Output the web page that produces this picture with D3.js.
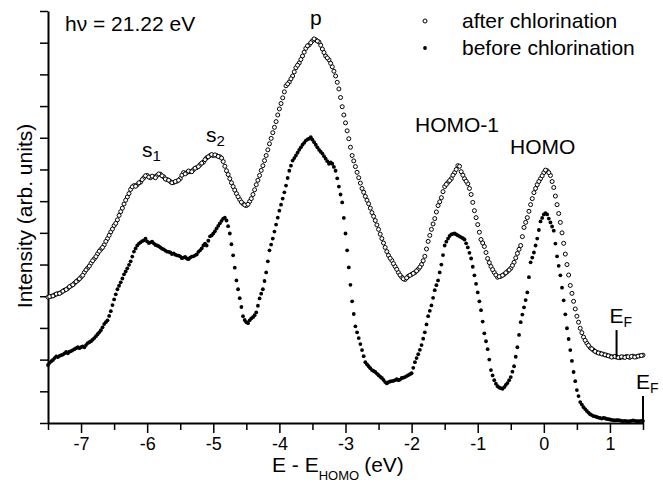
<!DOCTYPE html>
<html>
<head>
<meta charset="utf-8">
<script src="https://cdn.jsdelivr.net/npm/d3@7"></script>
<style>
  body { margin: 0; background: #fff; }
  text { font-family: "Liberation Sans", Arial, Helvetica, sans-serif; fill: #000; }
</style>
</head>
<body>
<div id="chart"></div>
<script>
// binding energy grid (eV relative to HOMO), one row per 0.5 eV
const energy = [
  -7.50,-7.45,-7.40,-7.35,-7.30,-7.25,-7.20,-7.15,-7.10,-7.05,
  -7.00,-6.95,-6.90,-6.85,-6.80,-6.75,-6.70,-6.65,-6.60,-6.55,
  -6.50,-6.45,-6.40,-6.35,-6.30,-6.25,-6.20,-6.15,-6.10,-6.05,
  -6.00,-5.95,-5.90,-5.85,-5.80,-5.75,-5.70,-5.65,-5.60,-5.55,
  -5.50,-5.45,-5.40,-5.35,-5.30,-5.25,-5.20,-5.15,-5.10,-5.05,
  -5.00,-4.95,-4.90,-4.85,-4.80,-4.75,-4.70,-4.65,-4.60,-4.55,
  -4.50,-4.45,-4.40,-4.35,-4.30,-4.25,-4.20,-4.15,-4.10,-4.05,
  -4.00,-3.95,-3.90,-3.85,-3.80,-3.75,-3.70,-3.65,-3.60,-3.55,
  -3.50,-3.45,-3.40,-3.35,-3.30,-3.25,-3.20,-3.15,-3.10,-3.05,
  -3.00,-2.95,-2.90,-2.85,-2.80,-2.75,-2.70,-2.65,-2.60,-2.55,
  -2.50,-2.45,-2.40,-2.35,-2.30,-2.25,-2.20,-2.15,-2.10,-2.05,
  -2.00,-1.95,-1.90,-1.85,-1.80,-1.75,-1.70,-1.65,-1.60,-1.55,
  -1.50,-1.45,-1.40,-1.35,-1.30,-1.25,-1.20,-1.15,-1.10,-1.05,
  -1.00,-0.95,-0.90,-0.85,-0.80,-0.75,-0.70,-0.65,-0.60,-0.55,
  -0.50,-0.45,-0.40,-0.35,-0.30,-0.25,-0.20,-0.15,-0.10,-0.05,
   0.00, 0.05, 0.10, 0.15, 0.20, 0.25, 0.30, 0.35, 0.40, 0.45,
   0.50, 0.55, 0.60, 0.65, 0.70, 0.75, 0.80, 0.85, 0.90, 0.95,
   1.00, 1.05, 1.10, 1.15, 1.20, 1.25, 1.30, 1.35, 1.40, 1.45, 1.50
];

// the in-between energies of the scan
const energyMid = [
  -7.475,-7.425,-7.375,-7.325,-7.275,-7.225,-7.175,-7.125,-7.075,-7.025,
  -6.975,-6.925,-6.875,-6.825,-6.775,-6.725,-6.675,-6.625,-6.575,-6.525,
  -6.475,-6.425,-6.375,-6.325,-6.275,-6.225,-6.175,-6.125,-6.075,-6.025,
  -5.975,-5.925,-5.875,-5.825,-5.775,-5.725,-5.675,-5.625,-5.575,-5.525,
  -5.475,-5.425,-5.375,-5.325,-5.275,-5.225,-5.175,-5.125,-5.075,-5.025,
  -4.975,-4.925,-4.875,-4.825,-4.775,-4.725,-4.675,-4.625,-4.575,-4.525,
  -4.475,-4.425,-4.375,-4.325,-4.275,-4.225,-4.175,-4.125,-4.075,-4.025,
  -3.975,-3.925,-3.875,-3.825,-3.775,-3.725,-3.675,-3.625,-3.575,-3.525,
  -3.475,-3.425,-3.375,-3.325,-3.275,-3.225,-3.175,-3.125,-3.075,-3.025,
  -2.975,-2.925,-2.875,-2.825,-2.775,-2.725,-2.675,-2.625,-2.575,-2.525,
  -2.475,-2.425,-2.375,-2.325,-2.275,-2.225,-2.175,-2.125,-2.075,-2.025,
  -1.975,-1.925,-1.875,-1.825,-1.775,-1.725,-1.675,-1.625,-1.575,-1.525,
  -1.475,-1.425,-1.375,-1.325,-1.275,-1.225,-1.175,-1.125,-1.075,-1.025,
  -0.975,-0.925,-0.875,-0.825,-0.775,-0.725,-0.675,-0.625,-0.575,-0.525,
  -0.475,-0.425,-0.375,-0.325,-0.275,-0.225,-0.175,-0.125,-0.075,-0.025,
   0.025, 0.075, 0.125, 0.175, 0.225, 0.275, 0.325, 0.375, 0.425, 0.475,
   0.525, 0.575, 0.625, 0.675, 0.725, 0.775, 0.825, 0.875, 0.925, 0.975,
   1.025, 1.075, 1.125, 1.175, 1.225, 1.275, 1.325, 1.375, 1.425, 1.475
];

// intensity after chlorination (open circles), arb. units
const afterCl = [
  3.97,4.00,4.04,4.08,4.12,4.19,4.25,4.33,4.41,4.50,
  4.60,4.75,4.89,5.04,5.18,5.34,5.48,5.62,5.82,6.03,
  6.23,6.41,6.67,6.91,7.13,7.37,7.49,7.52,7.60,7.74,
  7.81,7.74,7.77,7.81,7.85,7.77,7.68,7.62,7.59,7.63,
  7.71,7.90,7.90,7.93,7.99,8.06,8.15,8.23,8.37,8.44,
  8.44,8.44,8.40,8.25,7.96,7.71,7.46,7.24,7.05,6.92,
  6.86,6.99,7.21,7.52,7.81,8.12,8.44,8.81,9.16,9.51,
  9.91,10.26,10.64,10.76,10.95,11.21,11.36,11.58,11.82,11.93,
  12.06,12.09,12.02,11.80,11.58,11.46,11.24,10.95,10.54,9.98,
  9.47,8.97,8.44,8.09,7.74,7.40,7.15,6.92,6.64,6.39,
  6.11,5.82,5.54,5.29,5.13,4.94,4.75,4.60,4.53,4.63,
  4.69,4.75,4.85,5.00,5.26,5.73,6.11,6.45,6.86,7.11,
  7.46,7.59,7.71,7.90,8.12,7.93,7.71,7.55,7.21,6.70,
  6.26,5.79,5.57,5.19,4.94,4.75,4.60,4.63,4.69,4.78,
  4.88,5.07,5.35,5.60,6.17,6.48,6.89,7.27,7.52,7.71,
  7.90,7.96,7.81,7.43,6.89,6.33,5.67,5.00,4.34,3.84,
  3.37,2.99,2.71,2.52,2.38,2.30,2.23,2.20,2.17,2.14,
  2.11,2.09,2.08,2.06,2.08,2.10,2.07,2.11,2.09,2.12,2.14
];
const afterClMid = [
  3.99,4.01,4.07,4.09,4.16,4.21,4.30,4.36,4.46,4.55,
  4.66,4.83,4.95,5.12,5.25,5.42,5.54,5.73,5.92,6.12,
  6.30,6.55,6.78,7.03,7.24,7.45,7.47,7.58,7.68,7.80,
  7.76,7.79,7.74,7.86,7.80,7.70,7.66,7.58,7.62,7.66,
  7.82,7.86,7.95,7.93,8.04,8.09,8.20,8.31,8.40,8.47,
  8.46,8.41,8.36,8.10,7.84,7.58,7.35,7.14,6.97,6.88,
  6.90,7.08,7.36,7.66,7.97,8.28,8.62,8.98,9.33,9.72,
  10.08,10.45,10.70,10.86,11.08,11.29,11.47,11.70,11.90,12.00,
  12.12,12.05,11.92,11.69,11.52,11.35,11.10,10.75,10.27,9.72,
  9.22,8.70,8.27,7.91,7.57,7.28,7.03,6.78,6.52,6.25,
  5.96,5.68,5.41,5.20,5.03,4.85,4.67,4.55,4.58,4.66,
  4.72,4.80,4.92,5.12,5.49,5.92,6.28,6.66,6.98,7.30,
  7.53,7.65,7.82,8.00,8.10,7.82,7.63,7.40,6.96,6.48,
  6.02,5.68,5.38,5.06,4.84,4.67,4.62,4.66,4.74,4.83,
  4.97,5.21,5.48,5.88,6.33,6.68,7.08,7.40,7.62,7.80,
  7.98,7.90,7.62,7.16,6.61,6.00,5.33,4.67,4.09,3.60,
  3.18,2.85,2.61,2.45,2.34,2.26,2.21,2.18,2.15,2.12,
  2.08,2.10,2.07,2.09,2.07,2.09,2.10,2.08,2.11,2.13
];

// intensity before chlorination (filled dots), arb. units
const beforeCl = [
  1.83,1.95,2.05,2.08,2.14,2.20,2.20,2.27,2.33,2.39,
  2.39,2.39,2.52,2.58,2.68,2.80,2.93,3.12,3.24,3.53,
  3.90,4.22,4.44,4.69,4.88,5.10,5.41,5.60,5.70,5.76,
  5.73,5.70,5.67,5.60,5.54,5.48,5.41,5.38,5.35,5.29,
  5.26,5.22,5.19,5.22,5.26,5.32,5.45,5.60,5.60,5.89,
  5.98,6.14,6.30,6.45,6.39,5.98,5.29,4.50,3.94,3.37,
  3.18,3.24,3.34,3.49,3.93,4.22,4.75,5.45,5.82,6.26,
  6.70,7.08,7.49,7.96,8.28,8.44,8.62,8.78,8.91,8.97,
  8.94,8.78,8.62,8.50,8.34,8.18,8.18,7.96,7.46,6.96,
  5.98,4.91,3.84,3.05,2.68,2.30,1.92,1.79,1.67,1.61,
  1.51,1.42,1.29,1.29,1.32,1.35,1.35,1.42,1.45,1.51,
  1.57,1.92,2.17,2.46,2.86,3.37,3.71,4.19,4.50,5.00,
  5.60,5.82,5.95,5.98,5.92,5.86,5.79,5.54,5.19,4.66,
  4.12,3.56,2.83,2.33,1.67,1.35,1.16,1.10,1.13,1.26,
  1.45,1.79,2.39,3.18,3.65,4.12,5.07,5.38,5.82,6.36,
  6.58,6.58,6.33,6.07,5.26,4.66,3.87,2.99,2.30,1.61,
  1.04,0.66,0.50,0.38,0.28,0.22,0.19,0.16,0.16,0.13,
  0.11,0.09,0.09,0.08,0.06,0.06,0.06,0.08,0.06,0.06,0.06
];
const beforeClMid = [
  1.90,1.99,2.10,2.12,2.16,2.24,2.25,2.30,2.36,2.36,
  2.42,2.46,2.55,2.63,2.74,2.86,3.02,3.18,3.38,3.72,
  4.06,4.33,4.56,4.78,4.99,5.25,5.51,5.66,5.74,5.82,
  5.68,5.72,5.62,5.58,5.50,5.44,5.40,5.33,5.31,5.28,
  5.20,5.24,5.17,5.25,5.29,5.40,5.51,5.66,5.75,5.92,
  6.05,6.22,6.38,6.48,6.21,5.64,4.90,4.22,3.66,3.25,
  3.15,3.30,3.40,3.70,4.08,4.48,5.10,5.63,6.04,6.48,
  6.89,7.28,7.73,8.12,8.36,8.53,8.70,8.84,8.95,9.02,
  8.86,8.70,8.56,8.42,8.26,8.22,8.08,7.72,7.21,6.47,
  5.45,4.36,3.44,2.86,2.49,2.11,1.85,1.73,1.64,1.56,
  1.46,1.36,1.25,1.31,1.33,1.38,1.37,1.43,1.48,1.54,
  1.74,2.05,2.31,2.66,3.11,3.54,3.95,4.35,4.75,5.30,
  5.72,5.90,5.97,5.95,5.89,5.83,5.67,5.37,4.93,4.39,
  3.84,3.20,2.58,2.00,1.50,1.24,1.12,1.08,1.20,1.35,
  1.62,2.09,2.78,3.42,3.88,4.60,5.22,5.60,6.09,6.47,
  6.62,6.45,6.20,5.66,4.96,4.27,3.43,2.65,1.96,1.32,
  0.85,0.58,0.44,0.33,0.25,0.21,0.17,0.14,0.15,0.12,
  0.10,0.08,0.09,0.07,0.07,0.05,0.07,0.07,0.06,0.07
];

const xMajor = [-7, -6, -5, -4, -3, -2, -1, 0, 1];
const xMinor = [-7.5, -6.5, -5.5, -4.5, -3.5, -2.5, -1.5, -0.5, 0.5, 1.5];
const yTicks = [0, 1, 2, 3, 4, 5, 6, 7, 8, 9, 10, 11, 12, 13];
const legendNames = ["after chlorination", "before chlorination"];
// Fermi level positions (eV) for after / before spectra
const fermiE = [1.1, 1.5];

const W = 663, H = 487;
const margin = {top: 11, right: 20, bottom: 64, left: 48};

const svg = d3.select("#chart").append("svg")
  .attr("width", W).attr("height", H);

const x = d3.scaleLinear().domain([-7.5, 1.5]).range([margin.left, W - margin.right]);
const y = d3.scaleLinear().domain([0, 13]).range([H - margin.bottom, margin.top]);

// x axis: minor ticks first, then major with labels
svg.append("g")
  .attr("transform", `translate(0,${y(0)})`)
  .call(d3.axisBottom(x).tickValues(xMinor).tickSize(7).tickFormat(""))
  .call(g => g.select(".domain").remove())
  .call(g => g.selectAll("line").attr("stroke-width", 1.5));

const gx = svg.append("g")
  .attr("transform", `translate(0,${y(0)})`)
  .call(d3.axisBottom(x).tickValues(xMajor).tickSize(10).tickSizeOuter(0)
    .tickFormat(d => d < 0 ? "-" + Math.abs(d) : d));
gx.select(".domain").attr("stroke-width", 2);
gx.selectAll("line").attr("stroke-width", 1.5);
gx.selectAll("text").attr("font-size", 18).attr("font-family", null).attr("y", 14);

const gy = svg.append("g")
  .attr("transform", `translate(${x(-7.5)},0)`)
  .call(d3.axisLeft(y).tickValues(yTicks).tickSize(8).tickSizeOuter(0).tickFormat(""));
gy.select(".domain").attr("stroke-width", 2);
gy.selectAll("line").attr("stroke-width", 1.5);

// spectra: both sets of readings of each scan
const after = energy.map((e, i) => ({e: e, v: afterCl[i]}))
  .concat(energyMid.map((e, i) => ({e: e, v: afterClMid[i]})));
const before = energy.map((e, i) => ({e: e, v: beforeCl[i]}))
  .concat(energyMid.map((e, i) => ({e: e, v: beforeClMid[i]})));

svg.append("g").selectAll("circle").data(after).join("circle")
  .attr("cx", d => x(d.e)).attr("cy", d => y(d.v)).attr("r", 2)
  .attr("fill", "#fff").attr("stroke", "#000").attr("stroke-width", 1);

svg.append("g").selectAll("circle").data(before).join("circle")
  .attr("cx", d => x(d.e)).attr("cy", d => y(d.v)).attr("r", 1.9)
  .attr("fill", "#000");

// Fermi level markers
const efBase = [afterCl[afterCl.length - 1] - 0.06, 0];
fermiE.forEach((e, i) => {
  const y0 = y(efBase[i]);
  svg.append("line")
    .attr("x1", x(e)).attr("x2", x(e))
    .attr("y1", y0).attr("y2", y0 - 27)
    .attr("stroke", "#000").attr("stroke-width", 2);
  const t = svg.append("text")
    .attr("x", x(e) - 7).attr("y", y0 - 34).attr("font-size", 21);
  t.append("tspan").text("E");
  t.append("tspan").attr("font-size", 14).attr("dy", 4).text("F");
});

// annotations
function label(px, py, main, sub) {
  const t = svg.append("text").attr("x", px).attr("y", py).attr("font-size", 21);
  t.append("tspan").text(main);
  if (sub) t.append("tspan").attr("font-size", 15).attr("dy", 4).text(sub);
  return t;
}
label(65, 31, "hν = 21.22 eV");
label(310, 25, "p");
label(142, 157, "s", "1");
label(206, 142, "s", "2");
label(415, 132, "HOMO-1");
label(510, 154, "HOMO");

// legend
const legend = svg.append("g");
legendNames.forEach((name, i) => {
  const ly = 21 + i * 27;
  if (i === 0) {
    legend.append("circle").attr("cx", 425).attr("cy", ly).attr("r", 2)
      .attr("fill", "#fff").attr("stroke", "#000");
  } else {
    legend.append("circle").attr("cx", 425).attr("cy", ly).attr("r", 1.9).attr("fill", "#000");
  }
  legend.append("text").attr("x", 462).attr("y", ly + 7).attr("font-size", 21).text(name);
});

// axis titles
const xt = svg.append("text").attr("x", 272).attr("y", 472).attr("font-size", 21);
xt.append("tspan").text("E - E");
xt.append("tspan").attr("font-size", 13).attr("dy", 8).text("HOMO");
xt.append("tspan").attr("dy", -8).attr("dx", 5).text("(eV)");

svg.append("text")
  .attr("transform", `translate(32,216) rotate(-90)`)
  .attr("text-anchor", "middle").attr("font-size", 21)
  .text("Intensity (arb. units)");
</script>
</body>
</html>
